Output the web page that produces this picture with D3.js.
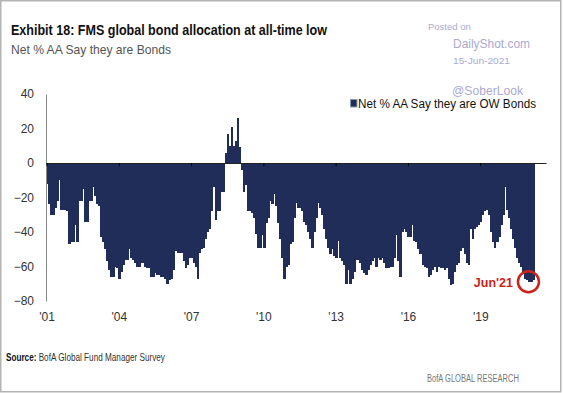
<!DOCTYPE html>
<html><head><meta charset="utf-8">
<script src="https://cdn.jsdelivr.net/npm/d3@7"></script>
<style>
html,body{margin:0;padding:0;background:#fff;}
svg{display:block;font-family:"Liberation Sans",Arial,sans-serif;}
</style></head>
<body>
<svg id="chart" width="564" height="393"></svg>
<script>
// ---- data ----
const startMonth = new Date(2001, 3, 1);   // Apr 2001 (first category)
const endMonth = new Date(2022, 0, 1);     // categories through Dec 2021
const categories = d3.timeMonth.range(startMonth, endMonth);
const seriesName = "Net % AA Say they are OW Bonds";
const values = [
-12,-24,-30,-30,-26,-22,-10,-27,-27,-27,-28,-47,-46,-46,-36,-46,-22,-22,-15,-34,
-34,-22,-22,-14,-19,-24,-25,-43,-46,-50,-57,-62,-66,-66,-60,-61,-67,-63,-59,-56,
-56,-50,-55,-56,-58,-60,-60,-58,-58,-60,-61,-61,-66,-66,-64,-65,-65,-66,-66,-67,
-70,-68,-67,-62,-51,-52,-52,-52,-57,-61,-59,-55,-55,-58,-60,-67,-52,-50,-49,-44,
-40,-38,-28,-14,-33,-28,-28,-17,-17,6,17,10,21,10,13,26,9,-4,-17,-13,
-28,-28,-29,-32,-41,-49,-49,-42,-49,-35,-32,-22,-24,-18,-25,-35,-44,-55,-67,-60,
-59,-47,-46,-32,-23,-26,-26,-28,-34,-36,-40,-44,-49,-40,-32,-23,-26,-30,-38,-44,
-49,-53,-50,-54,-55,-45,-55,-57,-59,-70,-62,-70,-67,-63,-56,-56,-58,-62,-64,-65,
-62,-59,-57,-55,-60,-55,-56,-55,-58,-61,-61,-60,-60,-55,-42,-57,-66,-40,-38,-40,
-43,-43,-36,-45,-46,-50,-53,-59,-60,-61,-66,-65,-62,-60,-63,-60,-61,-61,-62,-61,
-67,-71,-70,-63,-59,-58,-51,-49,-53,-58,-59,-38,-44,-38,-37,-36,-34,-30,-28,-27,
-30,-40,-46,-49,-46,-43,-36,-30,-14,-27,-32,-38,-44,-49,-55,-58,-60,-63,-67,-68,
-69,-69,-68
];
const tickLabels = ["'01","'04","'07","'10","'13","'16","'19"];
const yTicks = [40,20,0,-20,-40,-60,-80];
const titleText = "Exhibit 18: FMS global bond allocation at all-time low";
const subtitleText = "Net % AA Say they are Bonds";
const highlightLabel = "Jun'21";

const data = values.map((v,i)=>({date:categories[i], value:v}));

const svg = d3.select("#chart");
const barColor = "#1f2d58";
const narrow = "'Liberation Sans Narrow','Liberation Sans',Arial,sans-serif";

// border
svg.append("rect").attr("x",0.75).attr("y",0.75).attr("width",560).attr("height",391)
  .attr("fill","#fff").attr("stroke","#b4b4b4").attr("stroke-width",1.5);

// scales
const x = d3.scaleBand().domain(categories).range([46,546]).padding(0);
const y = d3.scaleLinear().domain([-80,40]).range([301,94]);

// bars
svg.append("g").attr("shape-rendering","crispEdges").selectAll("rect").data(data).join("rect")
  .attr("x",d=>x(d.date))
  .attr("width",x.bandwidth()+0.7)
  .attr("y",d=>y(Math.max(0,d.value)))
  .attr("height",d=>Math.abs(y(d.value)-y(0)))
  .attr("fill",barColor);

// y axis
const yAxis = svg.append("g").attr("transform","translate(46,0)")
  .call(d3.axisLeft(y).tickValues(yTicks).tickSize(0).tickPadding(12).tickFormat(d3.format("d")));
yAxis.select(".domain").attr("stroke","#8a8a8a").attr("stroke-width",1);
yAxis.selectAll("text").attr("font-size",12).attr("fill","#333")
  .attr("font-family","'Liberation Sans',Arial,sans-serif");

// zero line with ticks
const tickCats = categories.filter((d,i)=>i%36===0);
const zeroAxis = svg.append("g").attr("transform",`translate(0,${y(0)})`)
  .call(d3.axisBottom(x).tickValues(tickCats).tickSizeInner(3).tickSizeOuter(0).tickFormat(""));
zeroAxis.select(".domain").attr("stroke","#222").attr("stroke-width",1.1);
zeroAxis.selectAll(".tick line").attr("stroke","#000");

// x labels at bottom
const xAxis = svg.append("g").attr("transform","translate(0,308)")
  .call(d3.axisBottom(x).tickValues(tickCats).tickSize(0).tickPadding(4)
    .tickFormat((d,i)=>tickLabels[i]));
xAxis.select(".domain").remove();
xAxis.selectAll("text").attr("font-size",12).attr("fill","#333")
  .attr("font-family","'Liberation Sans',Arial,sans-serif");

// title & subtitle
svg.append("text").attr("x",11).attr("y",35).text(titleText)
  .attr("font-family",narrow)
  .attr("font-weight","bold").attr("font-size",14.5).attr("fill","#111")
  .attr("textLength",316).attr("lengthAdjust","spacingAndGlyphs");
svg.append("text").attr("x",11).attr("y",54).text(subtitleText)
  .attr("font-size",13).attr("fill","#555")
  .attr("textLength",160).attr("lengthAdjust","spacingAndGlyphs");

// watermark
const wm = "#aaaad2";
svg.append("text").attr("x",428).attr("y",30).text("Posted on").attr("font-size",9.5).attr("fill",wm);
svg.append("text").attr("x",453).attr("y",48).text("DailyShot.com").attr("font-size",13).attr("fill",wm)
  .attr("textLength",77).attr("lengthAdjust","spacingAndGlyphs");
svg.append("text").attr("x",453).attr("y",64).text("15-Jun-2021").attr("font-size",9.5).attr("fill",wm)
  .attr("textLength",57).attr("lengthAdjust","spacingAndGlyphs");
svg.append("text").attr("x",452).attr("y",95).text("@SoberLook").attr("font-size",13).attr("fill",wm)
  .attr("textLength",71).attr("lengthAdjust","spacingAndGlyphs");

// legend
svg.append("rect").attr("x",350.5).attr("y",99.5).attr("width",6.5).attr("height",7.5)
  .attr("fill",barColor).attr("stroke","#8e9ab8").attr("stroke-width",1);
svg.append("text").attr("x",358).attr("y",107.5).text(seriesName)
  .attr("font-size",12).attr("fill","#111")
  .attr("textLength",178).attr("lengthAdjust","spacingAndGlyphs");

// highlight
const last = data[data.length-1];
svg.append("circle").attr("cx",x(last.date)-3.5).attr("cy",y(last.value)+1.5).attr("r",10.5)
  .attr("fill","none").attr("stroke","#cc2219").attr("stroke-width",2.5);
svg.append("text").attr("x",x(last.date)-19).attr("y",287).attr("text-anchor","end")
  .text(highlightLabel).attr("font-size",12.5).attr("font-weight","bold").attr("fill","#cc2219");

// footer: source line, horizontally condensed with a scale transform
const srcG = svg.append("g");
const s1 = srcG.append("text").attr("x",0).attr("y",0).text("Source:")
  .attr("font-family",narrow).attr("font-weight","bold").attr("font-size",11).attr("fill","#111");
const w1 = s1.node().getComputedTextLength();
const s2 = srcG.append("text").attr("x",w1+3).attr("y",0).text("BofA Global Fund Manager Survey")
  .attr("font-family",narrow).attr("font-size",11).attr("fill","#333");
const w2 = s2.node().getComputedTextLength();
const sx = 159/(w1+3+w2);
srcG.attr("transform",`translate(6,361) scale(${sx},1)`);

const foot = svg.append("g");
const f1 = foot.append("text").attr("x",0).attr("y",0).text("BofA GLOBAL RESEARCH")
  .attr("font-family",narrow).attr("font-size",11).attr("fill","#777");
const fw = f1.node().getComputedTextLength();
foot.attr("transform",`translate(427,382) scale(${92/fw},1)`);
</script>
</body></html>
